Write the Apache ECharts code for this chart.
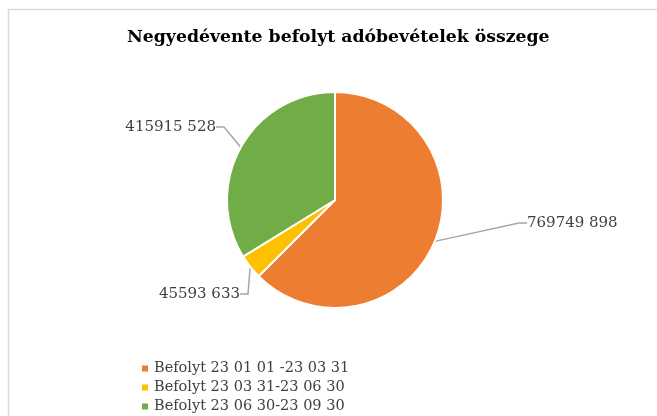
<!DOCTYPE html>
<html>
<head>
<meta charset="utf-8">
<script src="https://cdn.jsdelivr.net/npm/echarts@6/dist/echarts.min.js"></script>
<style>
  html, body { margin: 0; padding: 0; background: #fff; }
  #chart { width: 657px; height: 416px; }
</style>
</head>
<body>
<div id="chart"></div>
<script>
// negyedéves adatok
const categories = ['Befolyt 23 01 01 -23 03 31', 'Befolyt 23 03 31-23 06 30', 'Befolyt 23 06 30-23 09 30'];
const values = [769749898, 45593633, 415915528];
const valueLabels = ['769749 898', '45593 633', '415915 528'];
const colors = ['#ED7D31', '#FFC000', '#70AD47'];

const FONT = '"DejaVu Serif", serif';

const chart = echarts.init(document.getElementById('chart'));

// címkék helye (Excel stílus)
const labelPos = [
  { x: 527, y: 223, align: 'left' },
  { x: 240, y: 294, align: 'right' },
  { x: 216, y: 127, align: 'right' }
];

const option = {
  animation: false,
  title: {
    text: 'Negyedévente befolyt adóbevételek összege',
    left: 122,
    top: 24,
    textStyle: { fontFamily: FONT, fontSize: 17.3, fontWeight: 'bold', color: '#000' }
  },
  legend: {
    orient: 'vertical',
    left: 140,
    top: 359,
    padding: 0,
    itemWidth: 8,
    itemHeight: 8,
    itemGap: 0,
    icon: 'rect',
    data: categories,
    textStyle: { fontFamily: FONT, fontSize: 14.5, lineHeight: 19, color: '#404040' }
  },
  graphic: [
    {
      type: 'polyline',
      shape: { points: [[8.5, 416], [8.5, 9.5], [657, 9.5]] },
      style: { stroke: '#d9d9d9', lineWidth: 1.5, fill: null }
    }
  ],
  series: [
    {
      type: 'pie',
      center: [335, 200],
      radius: 108,
      startAngle: 90,
      clockwise: true,
      itemStyle: { borderColor: '#fff', borderWidth: 2 },
      label: {
        show: true,
        position: 'outside',
        fontFamily: FONT,
        fontSize: 15,
        color: '#404040',
        formatter: p => valueLabels[p.dataIndex]
      },
      labelLine: {
        show: true,
        length: 20,
        length2: 8,
        lineStyle: { color: '#a6a6a6', width: 1.5 }
      },
      labelLayout: p => {
        const lp = labelPos[p.dataIndex];
        return { x: lp.x, y: lp.y, align: lp.align, verticalAlign: 'middle' };
      },
      data: categories.map((name, i) => ({
        name,
        value: values[i],
        itemStyle: { color: colors[i] }
      }))
    }
  ]
};

chart.setOption(option);
</script>
</body>
</html>
